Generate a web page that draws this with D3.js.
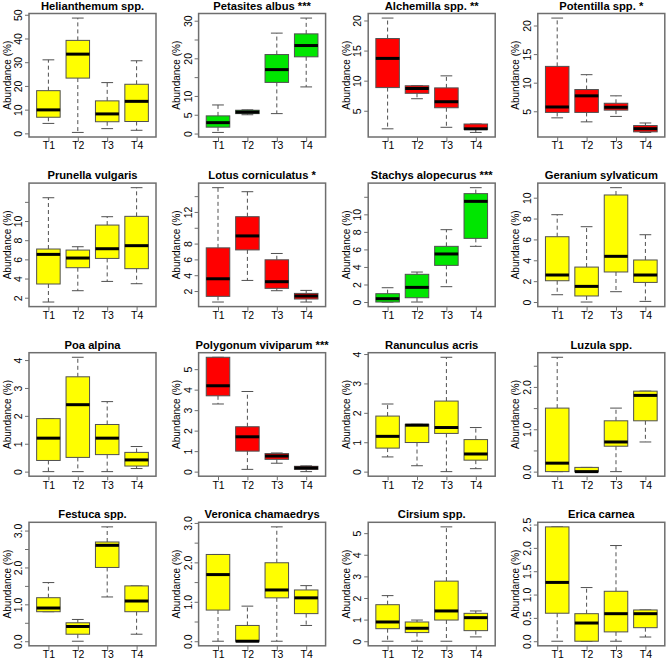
<!DOCTYPE html>
<html><head><meta charset="utf-8">
<script src="https://cdn.jsdelivr.net/npm/d3@7"></script>
<style>body{margin:0;background:#fff}svg{display:block}text{font-family:"Liberation Sans",Arial,sans-serif}</style>
</head><body><svg id="c" width="667" height="660"></svg>
<script>
const treatments = ["T1","T2","T3","T4"];
const species = ["Helianthemum spp.","Petasites albus ***","Alchemilla spp. **","Potentilla spp. *",
  "Prunella vulgaris","Lotus corniculatus *","Stachys alopecurus ***","Geranium sylvaticum",
  "Poa alpina","Polygonum viviparum ***","Ranunculus acris","Luzula spp.",
  "Festuca spp.","Veronica chamaedrys","Cirsium spp.","Erica carnea"];
const trend = ["none","up","down","down","none","down","up","none","none","down","none","none","none","none","none","none"];

// each treatment: [lower whisker, Q1, median, Q3, upper whisker]
const helianthemum = [[4.2,6.8,9.9,18.0,31.0],[0.4,23.3,33.4,39.2,48.6],[2.0,4.9,8.2,13.7,21.4],[1.3,5.0,13.5,20.7,30.6]];
const petasites    = [[0.3,1.7,2.9,4.7,7.6],[5.0,5.3,5.7,6.2,6.3],[5.3,13.6,17.0,21.0,26.7],[12.4,20.4,23.4,26.5,30.7]];
const alchemilla   = [[2.0,8.85,13.7,17.0,20.4],[7.0,7.9,8.7,9.15,9.15],[2.25,5.5,6.5,8.8,10.8],[1.4,1.9,2.0,2.8,2.8]];
const potentilla   = [[3.85,4.8,5.75,12.85,21.3],[3.15,4.8,7.7,8.8,11.4],[4.1,5.2,5.7,6.4,7.7],[1.3,1.4,1.95,2.5,2.95]];
const prunella     = [[1.55,3.43,6.52,7.08,12.43],[2.73,5.13,6.14,6.97,7.32],[3.7,6.1,7.11,9.58,10.45],[3.46,5.03,7.43,10.49,13.48]];
const lotus        = [[0.61,1.33,3.55,7.46,15.07],[3.34,7.2,8.97,11.4,14.56],[2.04,2.34,3.18,5.95,6.75],[0.61,0.99,1.37,1.7,2.08]];
const stachys      = [[0,0,0.38,0.95,1.63],[0,0.49,1.67,3.16,3.42],[1.75,4.18,5.48,6.35,8.25],[6.35,7.26,11.48,12.36,13.04]];
const geranium     = [[0.7,2.04,2.59,6.26,8.37],[0,0.58,1.5,3.35,7.22],[0.99,2.88,4.38,10.26,10.96],[0.06,1.88,2.59,4.03,6.45]];
const poa          = [[0,0.4,1.2,1.9,1.9],[0,0.51,2.4,3.4,4.1],[0,0.61,1.2,1.69,2.51],[0.11,0.2,0.42,0.69,0.9]];
const polygonum    = [[3.3,3.7,4.19,5.58,5.58],[0.11,1.0,1.7,2.19,3.91],[0.41,0.6,0.76,0.88,0.91],[0,0.11,0.18,0.26,0.28]];
const ranunculus   = [[0.5,0.8,1.2,1.89,2.3],[0.2,0.99,1.58,1.61,1.61],[0,1.3,1.5,2.4,3.89],[0.1,0.39,0.6,1.09,1.5]];
const luzula       = [[0,0,0.2,1.5,2.7],[0,0,0,0.1,0.1],[0,0.6,0.7,1.2,1.5],[0.7,1.2,1.8,1.9,1.9]];
const festuca      = [[0.8,0.8,0.9,1.18,1.59],[0,0.19,0.4,0.5,0.59],[1.2,2.0,2.6,2.69,3.1],[0.19,0.8,1.09,1.5,1.5]];
const veronica     = [[0,0.79,1.69,2.2,2.2],[0,0,0,0.4,0.89],[0,1.1,1.3,1.99,2.9],[0.4,0.7,1.1,1.3,1.41]];
const cirsium      = [[0,0.58,0.89,1.69,2.11],[0,0.4,0.6,0.89,0.98],[0,0.98,1.4,2.78,5.29],[0.2,0.49,1.09,1.29,1.4]];
const erica        = [[0,0.6,1.26,2.45,2.45],[0,0,0.39,0.59,1.15],[0,0.2,0.59,1.07,2.05],[0.09,0.29,0.59,0.67,0.67]];
const stats = [helianthemum,petasites,alchemilla,potentilla,prunella,lotus,stachys,geranium,
  poa,polygonum,ranunculus,luzula,festuca,veronica,cirsium,erica];

const yTicks = [
  [0,10,20,30,40,50],[0,5,10,15,20,25,30],[5,10,15,20],[5,10,15,20],
  [2,4,6,8,10,12],[2,4,6,8,10,12,14],[0,2,4,6,8,10,12],[0,2,4,6,8,10],
  [0,1,2,3,4],[0,1,2,3,4,5],[0,1,2,3,4],[0,0.5,1,1.5,2,2.5],
  [0,0.5,1,1.5,2,2.5,3],[0,0.5,1,1.5,2,2.5,3],[0,1,2,3,4,5],[0,0.5,1,1.5,2,2.5]];
const yTickLabels = [
  ["0","10","20","30","40","50"],["0","5","10","","20","","30"],["5","10","15","20"],["5","10","15","20"],
  ["2","4","6","8","10",""],["2","4","6","8","","12",""],["0","2","4","6","8","10",""],["0","2","4","6","8","10"],
  ["0","1","2","3","4"],["0","1","2","3","4","5"],["0","1","2","3","4"],["0.0","","1.0","","2.0",""],
  ["0.0","","1.0","","2.0","","3.0"],["0.0","","1.0","","2.0","","3.0"],["0","1","2","3","4","5"],["0.0","0.5","1.0","1.5","2.0","2.5"]];
const yTitle = "Abundance (%)";

// styles
const fills = {none:"#ffff00", up:"#00e600", down:"#ff0000"};
const frameCol = "#6e6e6e", boxCol = "#505050";
const L = {x0:29, y0:13.5, step:169.6, w:127, h:123.5};

const svg = d3.select("#c");
svg.append("rect").attr("width",667).attr("height",660).attr("fill","#fff");

stats.forEach((data, i) => {
  const c = i % 4, r = Math.floor(i / 4);
  const left = L.x0 + L.step*c, top = L.y0 + L.step*r;
  const right = left + L.w, bottom = top + L.h;
  const g = svg.append("g");
  const lo = d3.min(data, d => d[0]), hi = d3.max(data, d => d[4]);
  const pad = 0.04*(hi - lo);
  const y = d3.scaleLinear().domain([lo - pad, hi + pad]).range([bottom, top]);
  const x = d3.scaleLinear().domain([0.5 - 0.16, 4.5 + 0.16]).range([left, right]);
  const bw = x(0.8) - x(0), sw = bw*0.5;
  const fill = fills[trend[i]];

  data.forEach((d, j) => {
    const cx = x(j + 1);
    g.append("line").attr("x1",cx).attr("x2",cx).attr("y1",y(d[3])).attr("y2",y(d[4]))
      .attr("stroke",boxCol).attr("stroke-width",1).attr("stroke-dasharray","4,3");
    g.append("line").attr("x1",cx).attr("x2",cx).attr("y1",y(d[1])).attr("y2",y(d[0]))
      .attr("stroke",boxCol).attr("stroke-width",1).attr("stroke-dasharray","4,3");
    [d[0], d[4]].forEach(v => g.append("line").attr("x1",cx - sw/2).attr("x2",cx + sw/2)
      .attr("y1",y(v)).attr("y2",y(v)).attr("stroke",boxCol).attr("stroke-width",1));
    g.append("rect").attr("x",cx - bw/2).attr("width",bw).attr("y",y(d[3]))
      .attr("height",Math.max(0.01, y(d[1]) - y(d[3])))
      .attr("fill",fill).attr("stroke",boxCol).attr("stroke-width",1);
    g.append("line").attr("x1",cx - bw/2).attr("x2",cx + bw/2).attr("y1",y(d[2])).attr("y2",y(d[2]))
      .attr("stroke","#000").attr("stroke-width",3);
  });

  g.append("rect").attr("x",left).attr("y",top).attr("width",L.w).attr("height",L.h)
    .attr("fill","none").attr("stroke",frameCol).attr("stroke-width",1.5);

  const xa = g.append("g").attr("transform",`translate(0,${bottom})`)
    .call(d3.axisBottom(x).tickValues([1,2,3,4]).tickFormat(v => treatments[v-1]).tickSize(4).tickPadding(1));
  xa.select(".domain").remove();
  xa.selectAll("line").attr("stroke",frameCol);
  xa.selectAll("text").attr("font-size","10.5px").attr("fill","#000").attr("font-family","Liberation Sans, Arial, sans-serif");

  const ya = g.append("g").attr("transform",`translate(${left},0)`)
    .call(d3.axisLeft(y).tickValues(yTicks[i]).tickFormat((v,k) => yTickLabels[i][k]).tickSize(4));
  ya.select(".domain").remove();
  ya.selectAll("line").attr("stroke",frameCol);
  ya.selectAll("text").attr("font-size","10.5px").attr("fill","#000")
    .attr("font-family","Liberation Sans, Arial, sans-serif")
    .attr("x",null).attr("dy",null).attr("text-anchor","middle").attr("dominant-baseline","central")
    .attr("transform","translate(-11,0) rotate(-90)");

  g.append("text").attr("transform",`translate(${left - 22},${(top + bottom)/2}) rotate(-90)`)
    .attr("text-anchor","middle").attr("dominant-baseline","central")
    .attr("font-size","10px").text(yTitle);

  g.append("text").attr("x",(left + right)/2).attr("y",top - 4).attr("text-anchor","middle")
    .attr("font-size","11.2px").attr("font-weight","bold").text(species[i]);
});
</script></body></html>
